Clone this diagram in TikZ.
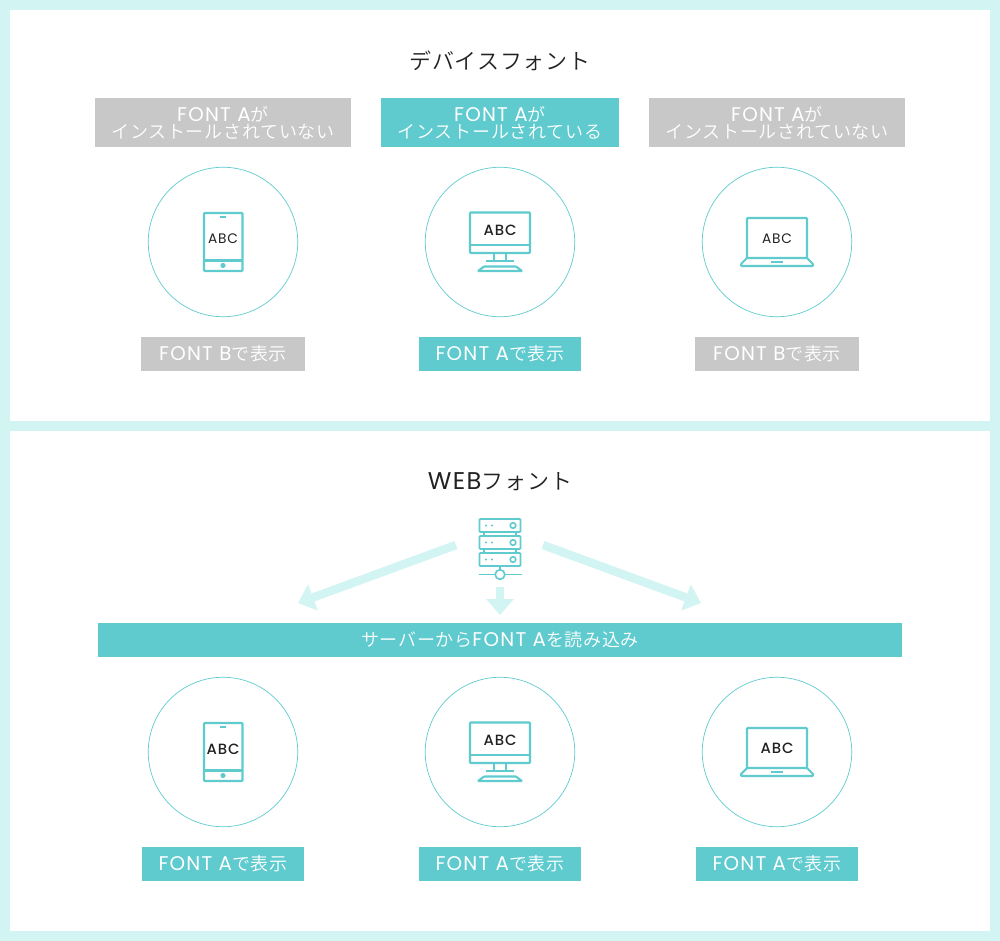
\documentclass[tikz,border=0pt]{standalone}
\usepackage{fontspec}
\setmainfont{Poppins}[BoldFont=* Medium,Scale=1.1,LetterSpace=6]
\newfontfamily\jpfont{Noto Sans CJK JP}[UprightFont=* DemiLight,LetterSpace=4]
\newcommand{\jp}[1]{{\jpfont #1}}
\usetikzlibrary{arrows.meta}
\definecolor{paleteal}{HTML}{D2F5F4}
\definecolor{mainteal}{HTML}{5FCBCF}
\definecolor{boxgray}{HTML}{C8C8C8}
\definecolor{inkdark}{HTML}{222222}
\tikzset{
  panel/.style={fill=white,draw=none},
  ring/.style={draw=mainteal,line width=0.7pt,circle,minimum size=149.5pt,inner sep=0pt},
  tealbox/.style={fill=mainteal,text=white,inner sep=0pt,align=center,font=\fontsize{18}{17}\selectfont},
  graybox/.style={tealbox,fill=boxgray},
  headline/.style={text=inkdark,font=\fontsize{22}{26}\selectfont},
  icon/.style={draw=mainteal,line width=2.1pt,rounded corners=0.8pt},
  flow/.style={paleteal,line width=8.5pt,-{Triangle[length=16pt,width=27pt]}},
  pics/tablet/.style={code={
    \draw[icon] (-19,-29) rectangle (19.5,29);
    \draw[icon] (-19,18.5) -- (19.5,18.5);
    \draw[icon] (-3,-25) -- (3,-25);
    \fill[mainteal] (0,23.5) circle (2.6pt);
    \node[text=inkdark,inner sep=0pt] (-text) at (0,-3) {#1};
  }},
  pics/desktop/.style={code={
    \draw[icon] (-30,-29.5) rectangle (30,11);
    \draw[icon] (-30,3) -- (30,3);
    \draw[icon] (-6,11) -- (-6,19) (6,11) -- (6,19);
    \draw[icon] (-14,19) -- (14,19);
    \draw[icon] (-22,29) -- (-16,24.5) -- (16,24.5) -- (22,29) -- cycle;
    \node[text=inkdark,inner sep=0pt] (-text) at (0,-12) {#1};
  }},
  pics/laptop/.style={code={
    \draw[icon] (-30,16) -- (-30,-24) -- (30,-24) -- (30,16);
    \draw[icon] (-30,16) -- (30,16) -- (36,22) -- (36,24) -- (-36,24) -- (-36,22) -- cycle;
    \draw[icon] (-6,20) -- (6,20);
    \node[text=inkdark,inner sep=0pt] (-text) at (0,-3.5) {#1};
  }},
}
\newcommand{\thinabc}{\fontsize{12.5}{16}\selectfont ABC}
\newcommand{\boldabc}{\fontsize{13.5}{18}\selectfont\bfseries ABC}
\begin{document}
\begin{tikzpicture}[x=1pt,y=-1pt]
\fill[paleteal] (0,0) rectangle (1000,941);
\fill[panel] (10,10) rectangle (990,421);
\fill[panel] (10,431) rectangle (990,931);
% device font
\node[headline] (devtitle) at (500,61) {\jp{デバイスフォント}};
\node[graybox,minimum width=256pt,minimum height=49pt] (labela) at (223,122.5) {FONT A\jp{が}\\\jp{インストールされていない}};
\node[tealbox,minimum width=238pt,minimum height=49pt] (labelb) at (500,122.5) {FONT A\jp{が}\\\jp{インストールされている}};
\node[graybox,minimum width=256pt,minimum height=49pt] (labelc) at (777,122.5) {FONT A\jp{が}\\\jp{インストールされていない}};
\node[ring] (ringa) at (223,242) {};
\node[ring] (ringb) at (500,242) {};
\node[ring] (ringc) at (777,242) {};
\pic (tab) at (ringa.center) {tablet={\thinabc}};
\pic (desk) at (ringb.center) {desktop={\boldabc}};
\pic (lap) at (ringc.center) {laptop={\thinabc}};
\node[graybox,minimum width=164pt,minimum height=34pt] (showa) at (223,354) {FONT B\jp{で表示}};
\node[tealbox,minimum width=162pt,minimum height=34pt] (showb) at (500,354) {FONT A\jp{で表示}};
\node[graybox,minimum width=164pt,minimum height=34pt] (showc) at (777,354) {FONT B\jp{で表示}};
% web font
\node[headline] (webtitle) at (500,482) {WEB\jp{フォント}};
\begin{scope}[shift={(500,542)}]
\foreach \rowy in {-16.5,0.5,17.5}{
  \draw[icon,line width=1.8pt] (-20.5,\rowy-6.5) rectangle (20.5,\rowy+6.5);
  \draw[mainteal,line width=1.6pt] (13,\rowy) circle (2.8pt);
  \fill[mainteal] (-14,\rowy) circle (1.1pt) (-8,\rowy) circle (1.1pt);
}
\draw[mainteal,line width=1.4pt] (-16,-10) -- (-16,-5) (16,-10) -- (16,-5) (-16,7) -- (-16,12) (16,7) -- (16,12);
\draw[mainteal,line width=1.4pt] (0,24) -- (0,28) (-21.5,32.5) -- (-5,32.5) (5,32.5) -- (21.5,32.5);
\draw[mainteal,line width=1.6pt] (0,32.5) circle (4.8pt);
\end{scope}
\coordinate (srvleft) at (456,545);
\coordinate (srvright) at (543,545);
\coordinate (srvdown) at (500,587);
\coordinate (hitleft) at (298,603);
\coordinate (hitright) at (701,603);
\coordinate (hitdown) at (500,615);
\draw[flow] (srvleft) -- (hitleft);
\draw[flow] (srvright) -- (hitright);
\draw[flow] (srvdown) -- (hitdown);
\node[tealbox,minimum width=804pt,minimum height=34pt] (loadbar) at (500,640) {\jp{サーバーから}FONT A\jp{を読み込み}};
\node[ring] (ringd) at (223,752) {};
\node[ring] (ringe) at (500,752) {};
\node[ring] (ringf) at (777,752) {};
\pic (tabweb) at (ringd.center) {tablet={\boldabc}};
\pic (deskweb) at (ringe.center) {desktop={\boldabc}};
\pic (lapweb) at (ringf.center) {laptop={\boldabc}};
\node[tealbox,minimum width=162pt,minimum height=34pt] (showd) at (223,864) {FONT A\jp{で表示}};
\node[tealbox,minimum width=162pt,minimum height=34pt] (showe) at (500,864) {FONT A\jp{で表示}};
\node[tealbox,minimum width=162pt,minimum height=34pt] (showf) at (777,864) {FONT A\jp{で表示}};
\end{tikzpicture}
\end{document}
